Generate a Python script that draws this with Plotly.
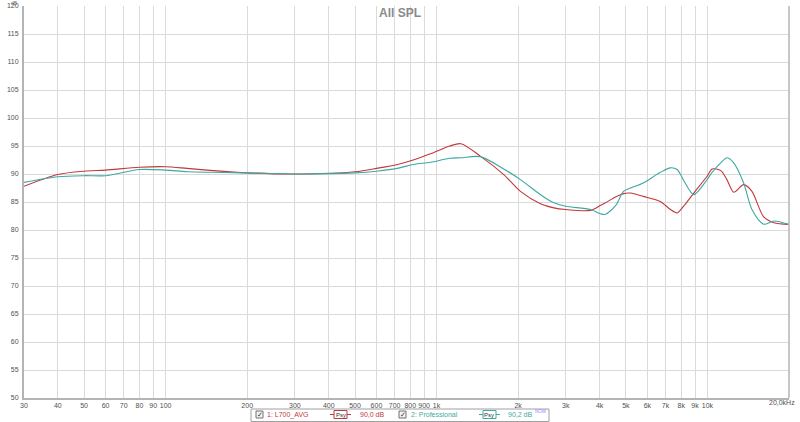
import math
import plotly.graph_objects as go

# ---------------- data ----------------
freq_hz = [30, 40, 50, 60, 80, 100, 120, 150, 200, 300, 500, 600, 730, 820, 950,
           1120, 1230, 1450, 1770, 2040, 2420, 2710, 3000, 3700, 4030, 4200, 4580,
           4900, 5200, 5800, 6700, 7300, 7730, 8180, 8900, 9970, 10400, 11200,
           11800, 12500, 13600, 14600, 16100, 17600, 20000]

l700_avg_db = [87.8, 89.9, 90.5, 90.7, 91.2, 91.3, 91.0, 90.6, 90.2, 90.0, 90.4, 91.0, 91.8, 92.5, 93.6,
               95.0, 95.4, 93.2, 89.9, 86.9, 84.7, 83.95, 83.65, 83.5, 84.4, 84.85, 85.9,
               86.5, 86.6, 86.0, 85.1, 83.65, 83.05, 84.3, 86.6, 89.6, 90.9, 90.6,
               89.0, 86.75, 88.1, 86.9, 82.4, 81.3, 81.0]

professional_db = [88.5, 89.5, 89.7, 89.7, 90.8, 90.7, 90.4, 90.3, 90.2, 90.0, 90.2, 90.5, 91.1, 91.7, 92.1,
                   92.8, 92.9, 93.1, 90.9, 89.0, 86.3, 84.85, 84.25, 83.65, 82.9, 82.8, 84.35,
                   86.9, 87.5, 88.4, 90.3, 91.1, 90.8, 88.8, 86.3, 89.0, 90.3, 92.0,
                   92.9, 92.0, 88.4, 83.65, 81.05, 81.6, 81.0]

series_names = ["1: L700_AVG", "2: Professional"]
series_levels = ["90,0 dB", "90,2 dB"]

x_tickvals = [30, 40, 50, 60, 70, 80, 90, 100, 200, 300, 400, 500, 600, 700, 800, 900,
              1000, 2000, 3000, 4000, 5000, 6000, 7000, 8000, 9000, 10000, 20000]
x_ticktext = ["30", "40", "50", "60", "70", "80", "90", "100", "200", "300", "400", "500",
              "600", "700", "800", "900", "1k", "2k", "3k", "4k", "5k", "6k", "7k", "8k",
              "9k", "10k", ""]
x_end_label = "20,0kHz"
major_lines = [100, 1000, 10000]
y_tickvals = list(range(50, 121, 5))

RED = "#c0393b"
TEAL = "#3fa8a2"
FONT = "Liberation Sans"

# ---------------- geometry helpers (pixel -> paper) ----------------
L, R, T, B = 24, 789, 6, 398
W, H = R - L, B - T


def px(x):
    return (x - L) / W


def py(y):
    return (B - y) / H


fig = go.Figure()
fig.add_trace(go.Scatter(x=freq_hz, y=l700_avg_db, mode="lines", name=series_names[0],
                         line=dict(color=RED, width=1.1, shape="spline", smoothing=0.8)))
fig.add_trace(go.Scatter(x=freq_hz, y=professional_db, mode="lines", name=series_names[1],
                         line=dict(color=TEAL, width=1.1, shape="spline", smoothing=0.8)))

shapes = []
for v in major_lines:
    shapes.append(dict(type="line", xref="x", yref="paper", x0=math.log10(v),
                       x1=math.log10(v), y0=0, y1=1,
                       line=dict(color="#a9a9a9", width=1), layer="below"))
shapes.append(dict(type="line", xref="paper", yref="paper", x0=1, x1=1, y0=0, y1=1,
                   line=dict(color="#b4b4b4", width=1.5)))

annotations = []
annotations.append(dict(text="<b>All SPL</b>", xref="paper", yref="paper", x=px(400), y=py(13),
                        showarrow=False, font=dict(family=FONT, size=12, color="#8a8a8a"),
                        xanchor="center", yanchor="middle"))
annotations.append(dict(text="dB", xref="paper", yref="paper", x=px(20), y=py(-1.5),
                        showarrow=False, font=dict(family=FONT, size=5, color="#666666"),
                        xanchor="right", yanchor="top"))
annotations.append(dict(text=x_end_label, xref="paper", yref="paper", x=px(797), y=py(402.5),
                        showarrow=False, font=dict(family=FONT, size=7, color="#505050"),
                        xanchor="right", yanchor="middle"))

# ---------------- legend box ----------------
ly = 414.5
shapes.append(dict(type="rect", xref="paper", yref="paper", x0=px(251), x1=px(549),
                   y0=py(421.5), y1=py(409), line=dict(color="#a0a0a0", width=1),
                   fillcolor="white"))


def legend_item(x_check, name, x_name, x_psy, level, x_level, color):
    shapes.append(dict(type="rect", xref="paper", yref="paper", x0=px(x_check), x1=px(x_check + 7),
                       y0=py(ly + 3.5), y1=py(ly - 3.5), line=dict(color="#707070", width=1),
                       fillcolor="#f4f4f4"))
    annotations.append(dict(text="✓", xref="paper", yref="paper", x=px(x_check + 3.8), y=py(ly),
                            showarrow=False, font=dict(family="DejaVu Sans", size=7, color="#303030"),
                            xanchor="center", yanchor="middle"))
    annotations.append(dict(text=name, xref="paper", yref="paper", x=px(x_name), y=py(ly),
                            showarrow=False, font=dict(family=FONT, size=7, color=color),
                            xanchor="left", yanchor="middle"))
    shapes.append(dict(type="line", xref="paper", yref="paper", x0=px(x_psy - 4), x1=px(x_psy + 17),
                       y0=py(ly), y1=py(ly), line=dict(color=color, width=1)))
    shapes.append(dict(type="rect", xref="paper", yref="paper", x0=px(x_psy), x1=px(x_psy + 13),
                       y0=py(ly + 4), y1=py(ly - 4), line=dict(color=color, width=1),
                       fillcolor="white"))
    annotations.append(dict(text="Psy", xref="paper", yref="paper", x=px(x_psy + 6.5), y=py(ly),
                            showarrow=False, font=dict(family=FONT, size=6, color="#303030"),
                            xanchor="center", yanchor="middle"))
    annotations.append(dict(text=level, xref="paper", yref="paper", x=px(x_level), y=py(ly),
                            showarrow=False, font=dict(family=FONT, size=7, color=color),
                            xanchor="left", yanchor="middle"))


legend_item(256, series_names[0], 265, 334, series_levels[0], 358, RED)
legend_item(399, series_names[1], 409, 483, series_levels[1], 506, TEAL)
annotations.append(dict(text="NOW", xref="paper", yref="paper", x=px(533), y=py(411),
                        showarrow=False, font=dict(family=FONT, size=4.5, color="#8a8aff"),
                        xanchor="left", yanchor="middle"))

fig.update_layout(
    width=800, height=422,
    margin=dict(l=L, r=800 - R, t=T, b=422 - B, pad=0, autoexpand=False),
    paper_bgcolor="white", plot_bgcolor="white",
    showlegend=False,
    shapes=shapes, annotations=annotations,
    xaxis=dict(type="log", range=[math.log10(30), math.log10(20000)],
               tickvals=x_tickvals, ticktext=x_ticktext, showgrid=True, gridcolor="#dadada",
               gridwidth=1, zeroline=False, showline=True, linecolor="#b4b4b4", linewidth=2,
               ticks="", tickfont=dict(family=FONT, size=7, color="#505050"),
               ticklabelstandoff=0, automargin=False),
    yaxis=dict(range=[50, 120], tickvals=y_tickvals, showgrid=True, gridcolor="#dadada",
               gridwidth=1, zeroline=False, showline=True, linecolor="#b4b4b4", linewidth=2,
               ticks="", tickfont=dict(family=FONT, size=7, color="#505050"),
               ticklabelstandoff=2, automargin=False),
)

fig.write_html("out.html", config={"displayModeBar": False},
               post_script="document.body.style.margin='0px';document.body.style.overflow='hidden';")
